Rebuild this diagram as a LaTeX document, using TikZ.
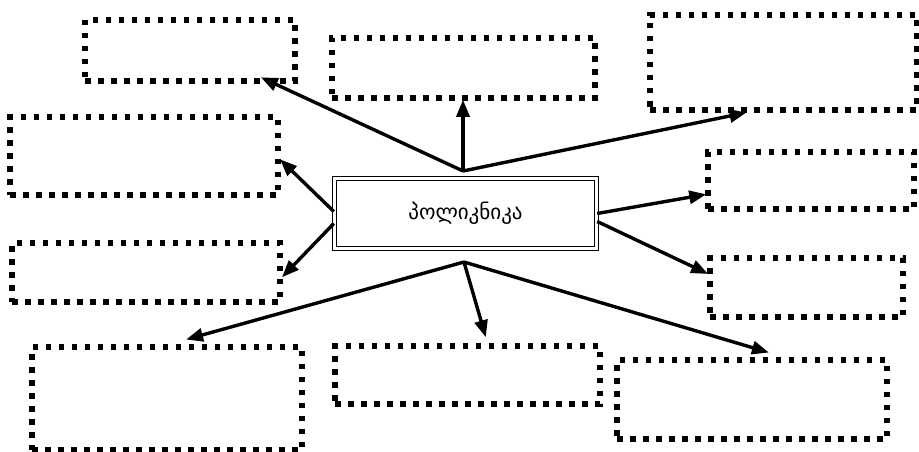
\documentclass[tikz,border=0pt]{standalone}
\usepackage{fontspec}
\newfontfamily\geofont{DejaVu Sans}
\usetikzlibrary{arrows.meta,calc}
\begin{document}
\begin{tikzpicture}[x=1pt,y=-1pt,
  dotbox/.style={draw=black, line width=5.5pt, dash pattern=on 5.5pt off 7.5pt, minimum width=#1, inner sep=0pt},
  hubbox/.style={draw=black, double=white, double distance=2.4pt, line width=1.4pt, minimum width=262pt, minimum height=70pt, inner sep=0pt},
  arr/.style={line width=3.4pt, -{Triangle[length=17pt,width=13pt]}, shorten >=-1pt}]
\useasboundingbox (0,0) rectangle (919,452);
\fill[white] (0,0) rectangle (919,452);
% empty boxes
\node[dotbox=210pt, minimum height=61pt] (b1) at (190,50.5) {};
\node[dotbox=263pt, minimum height=60pt] (b2) at (463.5,68) {};
\node[dotbox=267pt, minimum height=95pt] (b3) at (783.5,62.5) {};
\node[dotbox=268pt, minimum height=78pt] (b4) at (144,156) {};
\node[dotbox=268pt, minimum height=59pt] (b5) at (146,272.5) {};
\node[dotbox=206pt, minimum height=57pt] (b6) at (811,180.5) {};
\node[dotbox=193pt, minimum height=59pt] (b7) at (806.5,287.5) {};
\node[dotbox=270pt, minimum height=103pt] (b8) at (167,398.5) {};
\node[dotbox=265pt, minimum height=58pt] (b9) at (467.5,375) {};
\node[dotbox=270pt, minimum height=79pt] (b10) at (752,399.5) {};
% centre
\node[hubbox] (c) at (465.5,213.5) {\geofont\fontsize{21}{24}\selectfont პოლიკნიკა};
% hubs
\coordinate (hT) at (463,171);
\coordinate (hB) at (464,262);
\coordinate (cL1) at ($(c.west)+(0,-2)$);
\coordinate (cL2) at ($(c.west)+(0,10)$);
\coordinate (cR1) at ($(c.east)+(0,0)$);
\coordinate (cR2) at ($(c.east)+(0,8)$);
% connectors
\draw[arr] (hT) -- ($(b1.south east)+(-36,-6)$);
\draw[arr] (hT) -- (b2.south -| hT);
\draw[arr] (hT) -- ($(b3.south)+(-38,0)$);
\draw[arr] (cL1) -- ($(b4.east)+(0,4)$);
\draw[arr] (cL2) -- ($(b5.east)+(0,4)$);
\draw[arr] (cR1) -- ($(b6.west)+(0,14)$);
\draw[arr] (cR2) -- ($(b7.west)+(0,-14)$);
\draw[arr] (hB) -- ($(b8.north)+(20,-5)$);
\draw[arr] (hB) -- ($(b9.north)+(18,-7)$);
\draw[arr] (hB) -- ($(b10.north)+(16,-5)$);
\end{tikzpicture}
\end{document}
